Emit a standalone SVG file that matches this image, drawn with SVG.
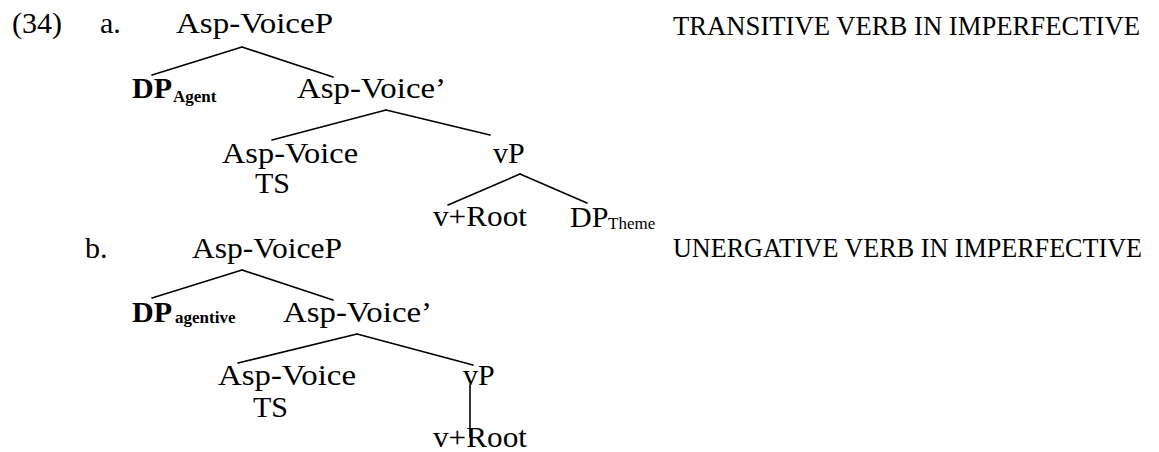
<svg xmlns="http://www.w3.org/2000/svg" width="1159" height="452" viewBox="0 0 1159 452">
<style>
text{font-family:'Liberation Serif','Tinos','Times New Roman','DejaVu Serif',serif;fill:#000}
.n{font-size:30px}
.b{font-weight:bold}
.sub{font-size:17px;font-weight:bold}
.subr{font-size:17px}
.lab{font-size:27px}
line{stroke:#000;stroke-width:1.6;stroke-linecap:round}
</style>
<rect width="1159" height="452" fill="#fff"/>
<text class="n" x="12" y="33" textLength="50" lengthAdjust="spacingAndGlyphs">(34)</text>
<text class="n" x="100" y="33">a.</text>
<text class="n" x="85" y="258">b.</text>
<text class="lab" x="673" y="35" textLength="467" lengthAdjust="spacingAndGlyphs">TRANSITIVE VERB IN IMPERFECTIVE</text>
<text class="lab" x="673" y="257" textLength="469" lengthAdjust="spacingAndGlyphs">UNERGATIVE VERB IN IMPERFECTIVE</text>
<g id="connectors">
<line x1="242" y1="47" x2="152" y2="75"/>
<line x1="242" y1="47" x2="333" y2="77"/>
<line x1="386" y1="110" x2="272" y2="140"/>
<line x1="386" y1="110" x2="490" y2="135"/>
<line x1="520" y1="174" x2="448" y2="205"/>
<line x1="520" y1="174" x2="587" y2="203"/>
<line x1="242" y1="270" x2="152" y2="298"/>
<line x1="242" y1="270" x2="333" y2="300"/>
<line x1="357" y1="334" x2="238" y2="363"/>
<line x1="357" y1="334" x2="473" y2="365"/>
<line x1="470" y1="385" x2="470" y2="437"/>
</g>
<g id="a-root"><text class="n" x="176" y="33" textLength="157" lengthAdjust="spacingAndGlyphs">Asp-VoiceP</text></g>
<g id="a-dp"><text class="n b" x="132" y="98">DP</text><text class="sub" x="173" y="102">Agent</text></g>
<g id="a-aspvoicebar"><text class="n" x="297" y="98" textLength="149" lengthAdjust="spacingAndGlyphs">Asp-Voice’</text></g>
<g id="a-aspvoice"><text class="n"><tspan x="222" y="163" textLength="136" lengthAdjust="spacingAndGlyphs">Asp-Voice</tspan><tspan x="255" y="193">TS</tspan></text></g>
<g id="a-vp"><text class="n" x="493" y="163">vP</text></g>
<g id="a-vroot"><text class="n" x="433" y="226" textLength="94" lengthAdjust="spacingAndGlyphs">v+Root</text></g>
<g id="a-dptheme"><text class="n" x="570" y="227">DP</text><text class="subr" x="608" y="229">Theme</text></g>
<g id="b-root"><text class="n" x="192" y="258" textLength="150" lengthAdjust="spacingAndGlyphs">Asp-VoiceP</text></g>
<g id="b-dp"><text class="n b" x="132" y="322">DP</text><text class="sub" x="175" y="323">agentive</text></g>
<g id="b-aspvoicebar"><text class="n" x="283" y="322" textLength="149" lengthAdjust="spacingAndGlyphs">Asp-Voice’</text></g>
<g id="b-aspvoice"><text class="n"><tspan x="218" y="385" textLength="138" lengthAdjust="spacingAndGlyphs">Asp-Voice</tspan><tspan x="253" y="417">TS</tspan></text></g>
<g id="b-vp"><text class="n" x="463" y="385">vP</text></g>
<g id="b-vroot"><text class="n" x="433" y="447" textLength="94" lengthAdjust="spacingAndGlyphs">v+Root</text></g>
</svg>
